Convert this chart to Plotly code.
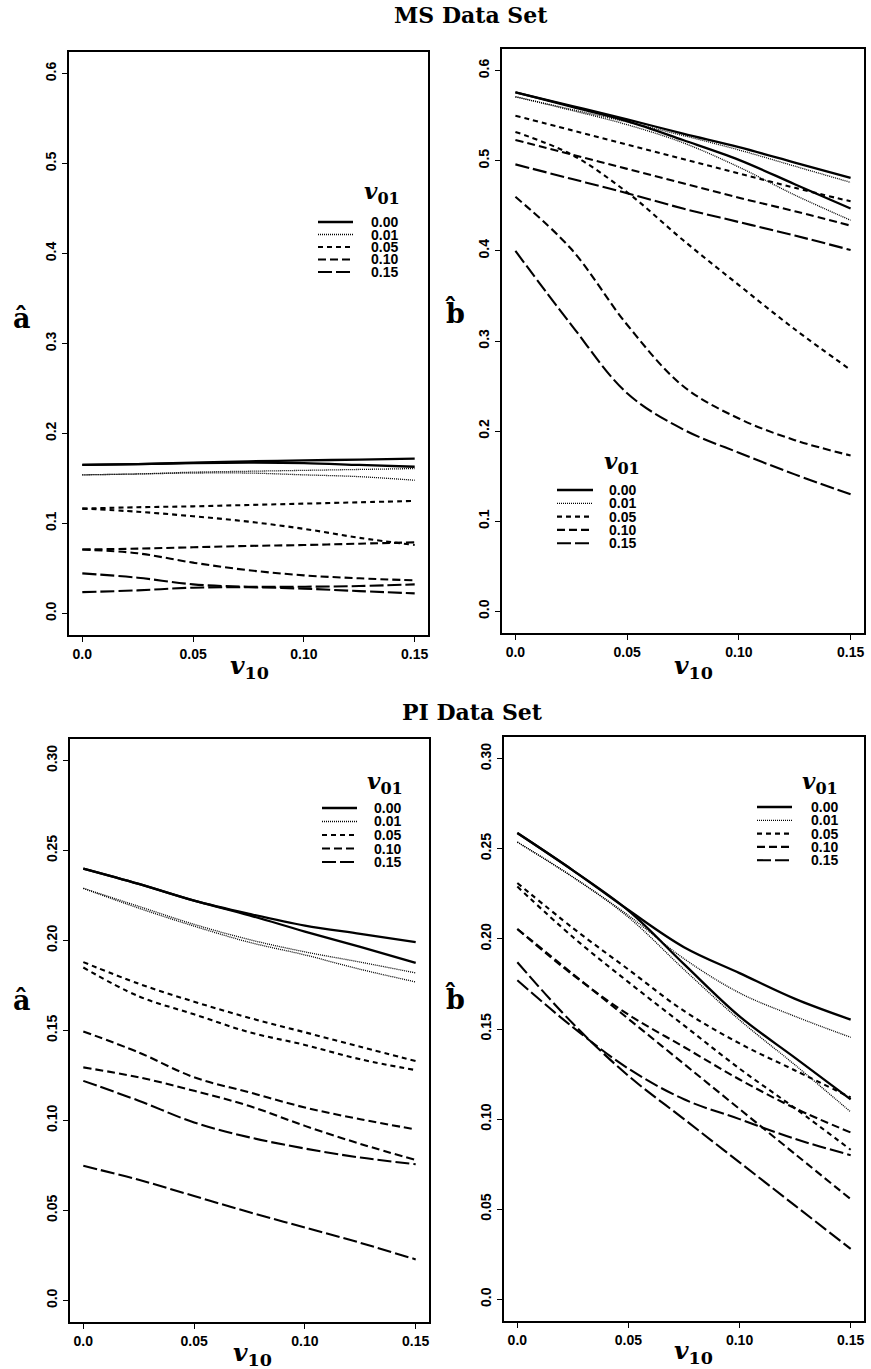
import plotly.graph_objects as go

# Horizontal grid shared by every curve
v10 = [0.0, 0.025, 0.05, 0.075, 0.1, 0.125, 0.15]
v01_levels = ["0.00", "0.01", "0.05", "0.10", "0.15"]

# MS data set, a-hat: two curves for each v01 level
ms_a_000 = [[0.165, 0.166, 0.1675, 0.169, 0.170, 0.171, 0.172],
            [0.165, 0.166, 0.167, 0.1675, 0.167, 0.165, 0.163]]
ms_a_001 = [[0.154, 0.155, 0.157, 0.158, 0.159, 0.160, 0.161],
            [0.154, 0.155, 0.156, 0.156, 0.154, 0.152, 0.148]]
ms_a_005 = [[0.1165, 0.118, 0.119, 0.1205, 0.122, 0.1235, 0.125],
            [0.1165, 0.113, 0.108, 0.102, 0.094, 0.084, 0.076]]
ms_a_010 = [[0.071, 0.072, 0.0735, 0.075, 0.076, 0.0775, 0.079],
            [0.071, 0.0668, 0.0564, 0.048, 0.0423, 0.039, 0.0367]]
ms_a_015 = [[0.0445, 0.0397, 0.0323, 0.0297, 0.0297, 0.0304, 0.0323],
            [0.0237, 0.0256, 0.0286, 0.029, 0.0275, 0.0248, 0.0223]]

# MS data set, b-hat
ms_b_000 = [[0.576, 0.561, 0.546, 0.530, 0.515, 0.498, 0.481],
            [0.576, 0.560, 0.544, 0.523, 0.501, 0.474, 0.447]]
ms_b_001 = [[0.571, 0.557, 0.543, 0.528, 0.512, 0.494, 0.476],
            [0.571, 0.556, 0.540, 0.520, 0.493, 0.462, 0.434]]
ms_b_005 = [[0.550, 0.534, 0.518, 0.502, 0.486, 0.470, 0.455],
            [0.532, 0.507, 0.465, 0.412, 0.362, 0.313, 0.268]]
ms_b_010 = [[0.523, 0.507, 0.491, 0.475, 0.459, 0.444, 0.428],
            [0.460, 0.402, 0.318, 0.250, 0.214, 0.190, 0.173]]
ms_b_015 = [[0.496, 0.480, 0.464, 0.447, 0.432, 0.417, 0.401],
            [0.400, 0.318, 0.242, 0.202, 0.176, 0.152, 0.130]]

# PI data set, a-hat
pi_a_000 = [[0.240, 0.2315, 0.2222, 0.2148, 0.2083, 0.2037, 0.1991],
            [0.240, 0.2315, 0.2222, 0.2140, 0.2050, 0.1965, 0.1876]]
pi_a_001 = [[0.229, 0.219, 0.209, 0.2005, 0.1937, 0.188, 0.182],
            [0.229, 0.218, 0.208, 0.199, 0.192, 0.184, 0.177]]
pi_a_005 = [[0.188, 0.176, 0.166, 0.157, 0.149, 0.141, 0.133],
            [0.185, 0.169, 0.159, 0.149, 0.142, 0.134, 0.128]]
pi_a_010 = [[0.1495, 0.1378, 0.124, 0.1156, 0.1072, 0.1007, 0.095],
            [0.1295, 0.124, 0.1165, 0.108, 0.097, 0.087, 0.078]]
pi_a_015 = [[0.122, 0.111, 0.0989, 0.0906, 0.0844, 0.0794, 0.0757],
            [0.0748, 0.067, 0.058, 0.049, 0.0405, 0.032, 0.0228]]

# PI data set, b-hat
pi_b_000 = [[0.2587, 0.238, 0.216, 0.1954, 0.181, 0.1667, 0.1552],
            [0.2587, 0.238, 0.2157, 0.186, 0.157, 0.134, 0.111]]
pi_b_001 = [[0.2537, 0.2343, 0.213, 0.189, 0.170, 0.157, 0.1454],
            [0.2537, 0.2343, 0.212, 0.183, 0.155, 0.130, 0.104]]
pi_b_005 = [[0.231, 0.206, 0.183, 0.160, 0.142, 0.127, 0.112],
            [0.229, 0.201, 0.176, 0.152, 0.128, 0.106, 0.083]]
pi_b_010 = [[0.2055, 0.180, 0.158, 0.140, 0.122, 0.106, 0.0926],
            [0.2055, 0.1805, 0.1556, 0.1306, 0.1056, 0.0806, 0.0556]]
pi_b_015 = [[0.177, 0.151, 0.128, 0.111, 0.100, 0.089, 0.080],
            [0.187, 0.153, 0.124, 0.100, 0.076, 0.052, 0.028]]

x_ticks = [0.0, 0.05, 0.10, 0.15]
x_ticktext = ["0.0", "0.05", "0.10", "0.15"]
ms_yticks = [0.0, 0.1, 0.2, 0.3, 0.4, 0.5, 0.6]
ms_yticktext = ["0.0", "0.1", "0.2", "0.3", "0.4", "0.5", "0.6"]
pi_yticks = [0.0, 0.05, 0.10, 0.15, 0.20, 0.25, 0.30]
pi_yticktext = ["0.0", "0.05", "0.10", "0.15", "0.20", "0.25", "0.30"]

W, H = 871, 1369

# line style per v01 level
STYLES = {
    "0.00": dict(width=2.3, dash="solid"),
    "0.01": dict(width=1.3, dash="1px,1px"),
    "0.05": dict(width=2.1, dash="5px,4px"),
    "0.10": dict(width=2.1, dash="8px,4px"),
    "0.15": dict(width=2.1, dash="14px,4px"),
}

panels = [
    # (curves by level, pixel box l, t, r, b, y ticks, y text, y range)
    ([ms_a_000, ms_a_001, ms_a_005, ms_a_010, ms_a_015], (69, 52, 428, 635),
     ms_yticks, ms_yticktext, [-0.024, 0.624]),
    ([ms_b_000, ms_b_001, ms_b_005, ms_b_010, ms_b_015], (502, 49, 864, 633),
     ms_yticks, ms_yticktext, [-0.024, 0.624]),
    ([pi_a_000, pi_a_001, pi_a_005, pi_a_010, pi_a_015], (70, 739, 429, 1322),
     pi_yticks, pi_yticktext, [-0.012, 0.312]),
    ([pi_b_000, pi_b_001, pi_b_005, pi_b_010, pi_b_015], (504, 737, 864, 1321),
     pi_yticks, pi_yticktext, [-0.012, 0.312]),
]

def px(x):
    return x / W

def py(y):
    return 1 - y / H

fig = go.Figure()
tick_font = dict(family="Liberation Sans", size=14, color="black", weight="bold")

layout = dict(
    width=W, height=H, autosize=False,
    margin=dict(l=0, r=0, t=0, b=0),
    paper_bgcolor="white", plot_bgcolor="white",
    showlegend=False,
)

for i, (levels, (l, t, r, b), yt, ytt, yr) in enumerate(panels, start=1):
    xname = "x" if i == 1 else f"x{i}"
    yname = "y" if i == 1 else f"y{i}"
    for lvl, pair in zip(v01_levels, levels):
        for curve in pair:
            fig.add_trace(go.Scatter(
                x=v10, y=curve, mode="lines", xaxis=xname, yaxis=yname,
                line=dict(color="black", shape="spline", smoothing=1.0, **STYLES[lvl]),
                hoverinfo="skip",
            ))
    axis_common = dict(showline=True, mirror=True, linecolor="black", linewidth=2,
                       ticks="outside", ticklen=5, tickwidth=1.2, tickcolor="black",
                       showgrid=False, zeroline=False, tickfont=tick_font)
    layout["xaxis" if i == 1 else f"xaxis{i}"] = dict(
        domain=[px(l), px(r)], range=[-0.006, 0.156], anchor=yname,
        tickvals=x_ticks, ticktext=x_ticktext, **axis_common)
    layout["yaxis" if i == 1 else f"yaxis{i}"] = dict(
        domain=[py(b), py(t)], range=yr, anchor=xname,
        tickvals=yt, ticktext=ytt, tickangle=-90, **axis_common)

fig.update_layout(**layout)

serif = "DejaVu Serif"
annotations = []

def text(x, y, s, size, family=serif, bold=True, xanchor="center"):
    annotations.append(dict(
        x=px(x), y=py(y), xref="paper", yref="paper", text=s, showarrow=False,
        xanchor=xanchor, yanchor="middle",
        font=dict(family=family, size=size, color="black",
                  weight="bold" if bold else "normal")))

# Section titles
text(471, 15, "MS Data Set", 22)
text(472, 712, "PI Data Set", 22)

# Axis titles
for cx, cy in [(249, 667), (693, 667), (252, 1354), (693, 1352)]:
    text(cx, cy, "<i>v</i><sub>10</sub>", 25)
text(22, 318, "\u00e2", 27)
text(22, 1000, "\u00e2", 27)
text(455, 312, "b\u0302", 27)
text(455, 998, "b\u0302", 27)

# Legends: title, key lines and level labels
legends = [
    # title centre, key x0, key x1, label left, first row y, row step
    ((382, 192), 318, 353, 369, 222, 12.5),
    ((622, 463), 557, 593, 607, 490, 13.3),
    ((385, 782), 322, 357, 372, 808, 13.5),
    ((820, 782), 757, 792, 809, 807, 13.3),
]
shapes = []
for (tx, ty), k0, k1, lx, y0, step in legends:
    text(tx, ty, "<i>v</i><sub>01</sub>", 23)
    for j, lvl in enumerate(v01_levels):
        yy = y0 + j * step
        st = STYLES[lvl]
        shapes.append(dict(type="line", xref="paper", yref="paper",
                           x0=px(k0), x1=px(k1), y0=py(yy), y1=py(yy),
                           line=dict(color="black", width=st["width"], dash=st["dash"])))
        text(lx, yy, lvl, 14, family="Liberation Sans", xanchor="left")

fig.update_layout(annotations=annotations, shapes=shapes)
fig.write_html("out.html")
